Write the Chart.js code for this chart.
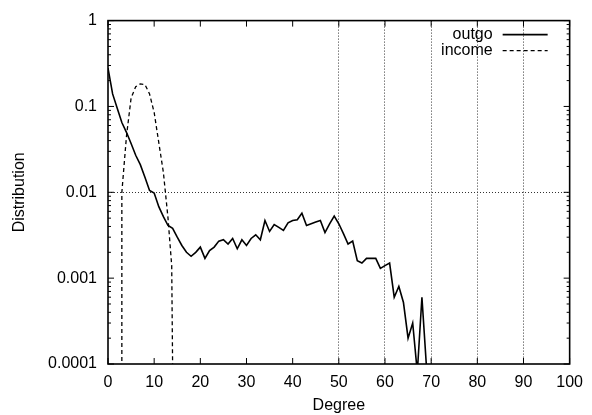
<!DOCTYPE html>
<html>
<head>
<meta charset="utf-8">
<script src="https://cdn.jsdelivr.net/npm/chart.js@4/dist/chart.umd.min.js"></script>
<style>
  html, body { margin: 0; padding: 0; background: #fff; }
</style>
</head>
<body>
<canvas id="degChart" width="592" height="415"></canvas>
<script>
// degree axis and the two distributions (log scale, values under 0.0001 are clipped)
const outgoDeg = [0, 1, 2, 3, 4, 5, 6, 7, 8, 9,
  10, 11, 12, 13, 14, 15, 16, 17, 18, 19,
  20, 21, 22, 23, 24, 25, 26, 27, 28, 29,
  30, 31, 32, 33, 34, 35, 36, 37, 38, 39,
  40, 41, 42, 43, 44, 45, 46, 47, 48, 49,
  50, 51, 52, 53, 54, 55, 56, 57, 58, 59,
  60, 61, 62, 63, 64, 65, 66, 67, 68, 69];
const outgoVal = [0.28, 0.14, 0.095, 0.065, 0.05, 0.037, 0.027, 0.021, 0.015, 0.0105,
  0.0098, 0.0068, 0.0052, 0.0041, 0.0038, 0.003, 0.0024, 0.002, 0.0018, 0.002,
  0.0023, 0.0017, 0.0021, 0.0023, 0.0027, 0.0028, 0.0025, 0.0029, 0.0022, 0.0028,
  0.0024, 0.0029, 0.0032, 0.0028, 0.0047, 0.0035, 0.0042, 0.0039, 0.0036, 0.0044,
  0.0047, 0.0048, 0.0057, 0.0041, 0.0043, 0.0045, 0.0047, 0.0034, 0.0043, 0.0053,
  0.0043, 0.0033, 0.0025, 0.0027, 0.0016, 0.0015, 0.0017, 0.0017, 0.0017, 0.0013,
  0.0014, 0.0015, 0.0006, 0.0008, 0.00052, 0.0002, 0.0003, 0.00008, 0.0006, 0.00009];

const incomeDeg = [3, 3, 4, 5, 6, 7, 8, 9, 10, 11, 12, 13, 13.8, 14];
const incomeVal = [0.00009, 0.01, 0.045, 0.125, 0.17, 0.183, 0.18, 0.14, 0.085, 0.038, 0.017, 0.005, 0.0014, 0.00009];

const xTicks = [0, 10, 20, 30, 40, 50, 60, 70, 80, 90, 100];
const xGridAt = [50, 60, 70, 80, 90];
const yTicks = [0.0001, 0.001, 0.01, 0.1, 1];
const yTickLabels = ['0.0001', '0.001', '0.01', '0.1', '1'];
const yGridAt = [0.01];

const FONT = '"Liberation Sans", Arial, sans-serif';
Chart.defaults.font.family = FONT;
Chart.defaults.font.size = 16;
Chart.defaults.color = '#000';

function toPoints(xs, ys) {
  return xs.map((d, i) => ({ x: d, y: ys[i] }));
}

// gnuplot style box, inward ticks and the legend in the top right corner
const framePlugin = {
  id: 'frame',
  afterDatasetsDraw(chart) {
    const { ctx, chartArea: a, scales: { x, y } } = chart;
    ctx.save();
    ctx.strokeStyle = '#000';
    ctx.lineWidth = 1.6;
    ctx.strokeRect(a.left, a.top, a.right - a.left, a.bottom - a.top);

    ctx.lineWidth = 1;
    ctx.beginPath();
    xTicks.forEach(v => {
      const px = x.getPixelForValue(v);
      ctx.moveTo(px, a.bottom); ctx.lineTo(px, a.bottom - 6);
      ctx.moveTo(px, a.top); ctx.lineTo(px, a.top + 6);
    });
    yTicks.forEach(v => {
      const py = y.getPixelForValue(v);
      ctx.moveTo(a.left, py); ctx.lineTo(a.left + 6, py);
      ctx.moveTo(a.right, py); ctx.lineTo(a.right - 6, py);
    });
    yTicks.slice(0, -1).forEach(v => {
      for (let m = 2; m < 10; m++) {
        const py = y.getPixelForValue(v * m);
        ctx.moveTo(a.left, py); ctx.lineTo(a.left + 3, py);
        ctx.moveTo(a.right, py); ctx.lineTo(a.right - 3, py);
      }
    });
    ctx.stroke();

    ctx.font = '16px ' + FONT;
    ctx.textAlign = 'right';
    ctx.textBaseline = 'middle';
    chart.data.datasets.forEach((ds, i) => {
      const ly = a.top + 14 + i * 16;
      ctx.fillStyle = '#000';
      ctx.fillText(ds.label, a.right - 77, ly);
      ctx.setLineDash(ds.borderDash || []);
      ctx.lineWidth = ds.borderWidth;
      ctx.beginPath();
      ctx.moveTo(a.right - 67, ly);
      ctx.lineTo(a.right - 22, ly);
      ctx.stroke();
    });
    ctx.restore();
  }
};

new Chart(document.getElementById('degChart'), {
  type: 'line',
  data: {
    datasets: [{
      label: 'outgo',
      data: toPoints(outgoDeg, outgoVal),
      borderColor: '#000',
      borderWidth: 1.6,
      pointRadius: 0,
      tension: 0,
      fill: false
    }, {
      label: 'income',
      data: toPoints(incomeDeg, incomeVal),
      borderColor: '#000',
      borderWidth: 1.3,
      borderDash: [4, 3],
      pointRadius: 0,
      tension: 0,
      fill: false
    }]
  },
  options: {
    responsive: false,
    animation: false,
    layout: { padding: { top: 16, right: 22, bottom: 0, left: 0 } },
    plugins: {
      legend: { display: false },
      tooltip: { enabled: false }
    },
    scales: {
      x: {
        type: 'linear',
        min: 0,
        max: 100,
        afterBuildTicks: s => { s.ticks = xTicks.map(v => ({ value: v })); },
        afterFit: s => { s.height = 51; },
        ticks: { padding: 9, maxRotation: 0 },
        grid: {
          drawTicks: false,
          lineWidth: 1,
          color: c => (c.tick && xGridAt.includes(c.tick.value)) ? '#333' : 'rgba(0,0,0,0)'
        },
        border: { display: false, dash: [1, 2] },
        title: { display: true, text: 'Degree', padding: 0 }
      },
      y: {
        type: 'logarithmic',
        min: 0.0001,
        max: 1,
        afterBuildTicks: s => { s.ticks = yTicks.map(v => ({ value: v })); },
        afterFit: s => { s.width = 108; },
        ticks: {
          padding: 11,
          autoSkip: false,
          callback: (v, i) => yTickLabels[i]
        },
        grid: {
          drawTicks: false,
          lineWidth: 1,
          color: c => (c.tick && yGridAt.includes(c.tick.value)) ? '#333' : 'rgba(0,0,0,0)'
        },
        border: { display: false, dash: [1, 2] },
        title: { display: true, text: 'Distribution', padding: { top: 10, bottom: 0 } }
      }
    }
  },
  plugins: [framePlugin]
});
</script>
</body>
</html>
